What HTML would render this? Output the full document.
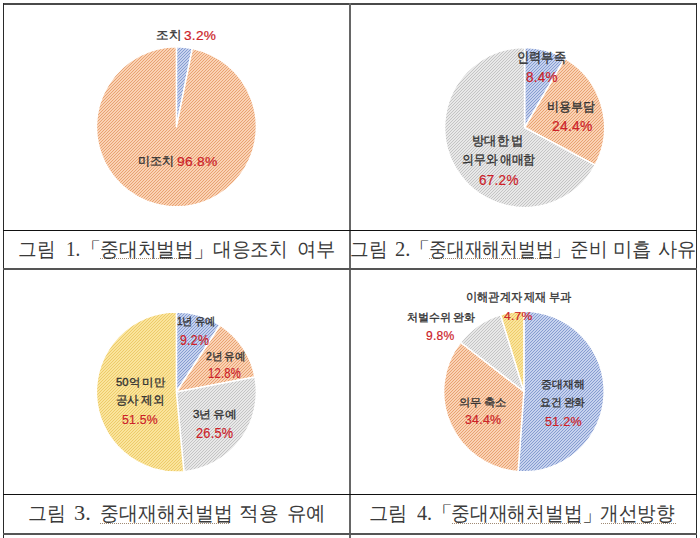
<!DOCTYPE html>
<html><head><meta charset="utf-8"><style>
html,body{margin:0;padding:0;background:#fff;}
body{width:700px;height:538px;position:relative;overflow:hidden;}
.ln{position:absolute;}
.wv{position:absolute;height:1px;background:repeating-linear-gradient(90deg,#a08a74 0 1px,transparent 1px 2px);}
.l,.r,.c{position:absolute;white-space:nowrap;line-height:1;transform-origin:0 0;}
.l{font-family:"Liberation Sans",sans-serif;-webkit-text-stroke:0.35px currentColor;word-spacing:-0.08em;}
.r{font-family:"Liberation Sans",sans-serif;-webkit-text-stroke:0.2px currentColor;letter-spacing:0.02em;}
.c{font-family:"Liberation Serif",serif;}
svg{position:absolute;left:0;top:0;}
</style></head><body>
<svg width="700" height="538" viewBox="0 0 700 538">
<defs><pattern id="po" width="3" height="3" patternUnits="userSpaceOnUse"><rect width="3" height="3" fill="#FAD2B4"/><path d="M0,2h1v1h-1zM1,1h1v1h-1zM2,0h1v1h-1z" fill="#E8A272"/></pattern><pattern id="pb" width="3" height="3" patternUnits="userSpaceOnUse"><rect width="3" height="3" fill="#C6D2EE"/><path d="M0,2h1v1h-1zM1,1h1v1h-1zM2,0h1v1h-1z" fill="#869CD0"/></pattern><pattern id="pg" width="3" height="3" patternUnits="userSpaceOnUse"><rect width="3" height="3" fill="#E8E8E8"/><path d="M0,2h1v1h-1zM1,1h1v1h-1zM2,0h1v1h-1z" fill="#C4C4C4"/></pattern><pattern id="py" width="3" height="3" patternUnits="userSpaceOnUse"><rect width="3" height="3" fill="#FAE49C"/><path d="M0,2h1v1h-1zM1,1h1v1h-1zM2,0h1v1h-1z" fill="#EDCB6A"/></pattern></defs>
<g stroke="#fff" stroke-width="1.5" stroke-linejoin="round">
<path d="M176.40,126.80 L176.40,46.80 A80,80 0 0 1 192.38,48.41 Z" fill="url(#pb)"/>
<path d="M176.40,126.80 L192.38,48.41 A80,80 0 1 1 176.40,46.80 Z" fill="url(#po)"/>
<path d="M524.60,127.50 L524.60,47.50 A80,80 0 0 1 564.89,58.39 Z" fill="url(#pb)"/>
<path d="M524.60,127.50 L564.89,58.39 A80,80 0 0 1 595.18,165.16 Z" fill="url(#po)"/>
<path d="M524.60,127.50 L595.18,165.16 A80,80 0 1 1 524.60,47.50 Z" fill="url(#pg)"/>
<path d="M176.40,392.00 L176.40,312.00 A80,80 0 0 1 220.11,325.00 Z" fill="url(#pb)"/>
<path d="M176.40,392.00 L220.11,325.00 A80,80 0 0 1 254.98,377.01 Z" fill="url(#po)"/>
<path d="M176.40,392.00 L254.98,377.01 A80,80 0 0 1 183.93,471.64 Z" fill="url(#pg)"/>
<path d="M176.40,392.00 L183.93,471.64 A80,80 0 1 1 176.40,312.00 Z" fill="url(#py)"/>
<path d="M523.90,391.50 L523.90,311.20 A80.3,80.3 0 1 1 518.11,471.59 Z" fill="url(#pb)"/>
<path d="M523.90,391.50 L518.11,471.59 A80.3,80.3 0 0 1 460.50,342.23 Z" fill="url(#po)"/>
<path d="M523.90,391.50 L460.50,342.23 A80.3,80.3 0 0 1 500.55,314.67 Z" fill="url(#pg)"/>
<path d="M523.90,391.50 L500.55,314.67 A80.3,80.3 0 0 1 523.90,311.20 Z" fill="url(#py)"/>
</g>
</svg>
<div class="ln" style="left:3px;top:3px;width:694px;height:2px;background:#4a4a4a"></div>
<div class="ln" style="left:3px;top:3px;width:1px;height:535px;background:#2a2a2a"></div>
<div class="ln" style="left:696px;top:3px;width:1px;height:535px;background:#2a2a2a"></div>
<div class="ln" style="left:349px;top:3px;width:2px;height:535px;background:#666"></div>
<div class="ln" style="left:3px;top:230px;width:694px;height:1px;background:#111"></div>
<div class="ln" style="left:3px;top:268px;width:694px;height:2px;background:#555"></div>
<div class="ln" style="left:3px;top:494px;width:694px;height:1px;background:#111"></div>
<div class="ln" style="left:3px;top:533px;width:694px;height:2px;background:#555"></div>
<div class="wv" style="left:100px;top:258px;width:92px"></div>
<div class="wv" style="left:429px;top:258px;width:123px"></div>
<div class="wv" style="left:100px;top:523px;width:130px"></div>
<div class="wv" style="left:452px;top:523px;width:129px"></div>
<div class="wv" style="left:601px;top:523px;width:75px"></div>
<div class="l" style="left:155.95px;top:29.50px;font-size:11.92px;color:#333333;transform:scaleX(1.045)">조치</div>
<div class="r" style="left:184.00px;top:29.00px;font-size:13.0px;color:#CC2229;transform:scaleX(1.050)">3.2%</div>
<div class="l" style="left:138.00px;top:155.70px;font-size:11.59px;color:#333333;transform:scaleX(1.000)">미조치</div>
<div class="r" style="left:177.40px;top:155.90px;font-size:12.71px;color:#CC2229;transform:scaleX(1.086)">96.8%</div>
<div class="l" style="left:517.13px;top:51.00px;font-size:13.54px;color:#333333;transform:scaleX(0.870)">인력부족</div>
<div class="r" style="left:525.50px;top:70.50px;font-size:13.72px;color:#CC2229;transform:scaleX(0.984)">8.4%</div>
<div class="l" style="left:546.78px;top:99.90px;font-size:13.0px;color:#333333;transform:scaleX(0.916)">비용부담</div>
<div class="r" style="left:551.60px;top:119.40px;font-size:14.3px;color:#CC2229;transform:scaleX(0.969)">24.4%</div>
<div class="l" style="left:472.45px;top:134.60px;font-size:12.68px;color:#333333;transform:scaleX(0.945)">방대한 법</div>
<div class="l" style="left:462.09px;top:154.00px;font-size:12.78px;color:#333333;transform:scaleX(0.910)">의무와 애매함</div>
<div class="r" style="left:479.30px;top:172.90px;font-size:14.01px;color:#CC2229;transform:scaleX(0.966)">67.2%</div>
<div class="l" style="left:177.00px;top:316.30px;font-size:10.62px;color:#333333;transform:scaleX(0.927)">1년 유예</div>
<div class="r" style="left:180.00px;top:332.70px;font-size:14.01px;color:#CC2229;transform:scaleX(0.882)">9.2%</div>
<div class="l" style="left:206.00px;top:350.60px;font-size:11.05px;color:#333333;transform:scaleX(0.952)">2년 유예</div>
<div class="r" style="left:208.29px;top:367.40px;font-size:13.87px;color:#CC2229;transform:scaleX(0.810)">12.8%</div>
<div class="l" style="left:116.00px;top:377.20px;font-size:10.83px;color:#333333;transform:scaleX(1.038)">50억 미만</div>
<div class="l" style="left:116.24px;top:394.20px;font-size:11.7px;color:#333333;transform:scaleX(0.958)">공사 제외</div>
<div class="r" style="left:122.40px;top:414.10px;font-size:12.42px;color:#CC2229;transform:scaleX(0.989)">51.5%</div>
<div class="l" style="left:192.50px;top:409.20px;font-size:10.83px;color:#333333;transform:scaleX(1.067)">3년 유예</div>
<div class="r" style="left:195.60px;top:426.60px;font-size:13.87px;color:#CC2229;transform:scaleX(0.920)">26.5%</div>
<div class="l" style="left:465.97px;top:291.00px;font-size:12.03px;color:#333333;transform:scaleX(0.933)">이해관계자 제재 부과</div>
<div class="r" style="left:503.70px;top:310.70px;font-size:11.12px;color:#CC2229;transform:scaleX(1.088)">4.7%</div>
<div class="l" style="left:406.90px;top:312.30px;font-size:11.16px;color:#333333;transform:scaleX(1.000)">처벌수위 완화</div>
<div class="r" style="left:425.70px;top:328.60px;font-size:13.14px;color:#CC2229;transform:scaleX(0.923)">9.8%</div>
<div class="l" style="left:541.10px;top:379.20px;font-size:10.94px;color:#333333;transform:scaleX(0.986)">중대재해</div>
<div class="l" style="left:539.50px;top:397.10px;font-size:10.83px;color:#333333;transform:scaleX(0.980)">요건 완화</div>
<div class="r" style="left:544.50px;top:415.60px;font-size:12.86px;color:#CC2229;transform:scaleX(0.978)">51.2%</div>
<div class="l" style="left:459.08px;top:396.60px;font-size:11.16px;color:#333333;transform:scaleX(1.020)">의무 축소</div>
<div class="r" style="left:464.90px;top:413.40px;font-size:13.58px;color:#CC2229;transform:scaleX(0.910)">34.4%</div>
<div class="c" style="left:17.57px;top:240.00px;font-size:19.67px;color:#3a3a3a;transform:scaleX(0.931)">그림</div>
<div class="c" style="left:66.17px;top:239.00px;font-size:20.71px;color:#3a3a3a;transform:scaleX(0.917)">1.</div>
<div class="c" style="left:79.26px;top:239.90px;font-size:18.2px;color:#3a3a3a;transform:scaleX(1.240)">「</div>
<div class="c" style="left:100.16px;top:238.60px;font-size:20.22px;color:#3a3a3a;transform:scaleX(0.941)">중대처벌법</div>
<div class="c" style="left:192.67px;top:241.00px;font-size:19.0px;color:#3a3a3a;transform:scaleX(1.167)">」</div>
<div class="c" style="left:213.17px;top:240.00px;font-size:19.78px;color:#3a3a3a;transform:scaleX(0.933)">대응조치</div>
<div class="c" style="left:296.67px;top:240.00px;font-size:19.78px;color:#3a3a3a;transform:scaleX(0.965)">여부</div>
<div class="c" style="left:349.77px;top:240.00px;font-size:19.67px;color:#3a3a3a;transform:scaleX(0.933)">그림</div>
<div class="c" style="left:394.71px;top:239.00px;font-size:20.71px;color:#3a3a3a;transform:scaleX(0.992)">2.</div>
<div class="c" style="left:406.80px;top:241.10px;font-size:17.8px;color:#3a3a3a;transform:scaleX(1.300)">「</div>
<div class="c" style="left:429.11px;top:238.60px;font-size:20.22px;color:#3a3a3a;transform:scaleX(0.890)">중대재해처벌법</div>
<div class="c" style="left:551.80px;top:241.30px;font-size:18.4px;color:#3a3a3a;transform:scaleX(1.050)">」</div>
<div class="c" style="left:569.77px;top:240.00px;font-size:19.78px;color:#3a3a3a;transform:scaleX(0.933)">준비</div>
<div class="c" style="left:613.07px;top:240.00px;font-size:19.78px;color:#3a3a3a;transform:scaleX(0.965)">미흡</div>
<div class="c" style="left:657.64px;top:240.00px;font-size:19.78px;color:#3a3a3a;transform:scaleX(0.958)">사유</div>
<div class="c" style="left:27.56px;top:504.00px;font-size:19.67px;color:#3a3a3a;transform:scaleX(0.944)">그림</div>
<div class="c" style="left:73.92px;top:503.00px;font-size:20.71px;color:#3a3a3a;transform:scaleX(1.077)">3.</div>
<div class="c" style="left:99.75px;top:502.60px;font-size:20.22px;color:#3a3a3a;transform:scaleX(0.946)">중대재해처벌법</div>
<div class="c" style="left:238.73px;top:504.00px;font-size:19.78px;color:#3a3a3a;transform:scaleX(0.984)">적용</div>
<div class="c" style="left:286.93px;top:504.00px;font-size:19.78px;color:#3a3a3a;transform:scaleX(0.972)">유예</div>
<div class="c" style="left:368.74px;top:504.00px;font-size:19.67px;color:#3a3a3a;transform:scaleX(0.961)">그림</div>
<div class="c" style="left:417.10px;top:503.00px;font-size:20.71px;color:#3a3a3a;transform:scaleX(0.971)">4.</div>
<div class="c" style="left:429.26px;top:503.90px;font-size:18.2px;color:#3a3a3a;transform:scaleX(1.340)">「</div>
<div class="c" style="left:451.26px;top:502.60px;font-size:20.22px;color:#3a3a3a;transform:scaleX(0.940)">중대재해처벌법</div>
<div class="c" style="left:581.87px;top:505.00px;font-size:19.0px;color:#3a3a3a;transform:scaleX(1.117)">」</div>
<div class="c" style="left:600.47px;top:504.00px;font-size:19.78px;color:#3a3a3a;transform:scaleX(0.932)">개선방향</div>
</body></html>
